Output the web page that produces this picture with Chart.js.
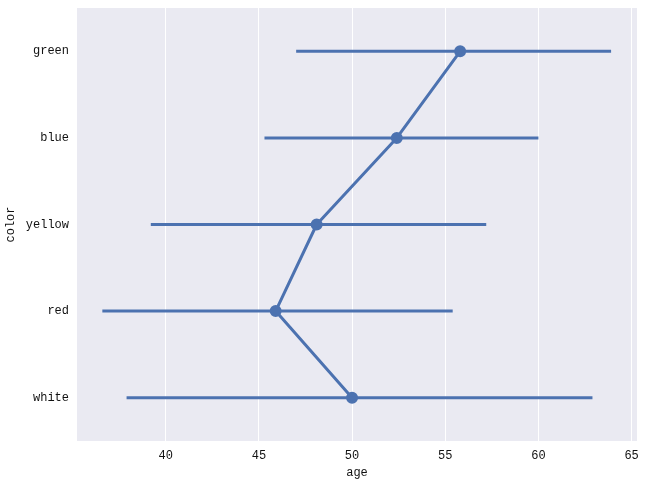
<!DOCTYPE html>
<html>
<head>
<meta charset="utf-8">
<script src="https://cdn.jsdelivr.net/npm/chart.js@4"></script>
<style>
  html, body { margin: 0; padding: 0; background: #fff; }
  #wrap { width: 646px; height: 486px; }
</style>
</head>
<body>
<div id="wrap"><canvas id="chart01" width="646" height="486"></canvas></div>
<script>
// 色ごとの年齢の平均と信頼区間
var categories = ['green', 'blue', 'yellow', 'red', 'white'];
var means = [55.8, 52.4, 48.1, 45.9, 50.0];
var ciLow = [47.0, 45.3, 39.2, 36.6, 37.9];
var ciHigh = [63.9, 60.0, 57.2, 55.4, 62.9];
var xTicks = [40, 45, 50, 55, 60, 65];

var lineColor = '#4c72b0';
var fontFamily = '"Liberation Mono", "DejaVu Sans Mono", monospace';

var datasets = [];
categories.forEach(function(c, i) {
  datasets.push({
    label: c + ' ci',
    data: [{x: ciLow[i], y: c}, {x: ciHigh[i], y: c}],
    borderColor: lineColor,
    borderWidth: 3,
    pointRadius: 0,
    borderCapStyle: 'butt',
  });
});
datasets.push({
  label: 'mean',
  data: categories.map(function(c, i) { return {x: means[i], y: c}; }),
  borderColor: lineColor,
  backgroundColor: lineColor,
  borderWidth: 3,
  pointRadius: 4.5,
  pointHoverRadius: 4.5,
  borderJoinStyle: 'round',
});

var plotBg = {
  id: 'plotBg',
  beforeDraw: function(chart) {
    var a = chart.chartArea, ctx = chart.ctx;
    ctx.save();
    ctx.fillStyle = '#eaeaf2';
    ctx.fillRect(a.left, a.top, a.right - a.left, a.bottom - a.top);
    ctx.restore();
  }
};

var ctx = document.getElementById('chart01');
var chart = new Chart(ctx, {
  type: 'line',
  data: { labels: categories, datasets: datasets },
  plugins: [plotBg],
  options: {
    responsive: false,
    animation: false,
    layout: { padding: { top: 8, right: 9, left: 0, bottom: 0 } },
    plugins: {
      legend: { display: false },
      tooltip: { enabled: false },
    },
    scales: {
      x: {
        type: 'linear',
        min: 35.24,
        max: 65.29,
        afterBuildTicks: function(scale) {
          scale.ticks = xTicks.map(function(v) { return {value: v}; });
        },
        afterFit: function(scale) {
          scale.height = 45;
          scale.paddingLeft = 0;
          scale.paddingRight = 0;
        },
        grid: { color: '#ffffff', lineWidth: 1, drawTicks: false },
        border: { display: false },
        ticks: { color: '#111', font: { family: fontFamily, size: 12 }, padding: 8 },
        title: { display: true, text: 'age', color: '#111', font: { family: fontFamily, size: 12 }, padding: { top: 0, bottom: 6 } },
      },
      y: {
        type: 'category',
        labels: categories,
        offset: true,
        afterFit: function(scale) {
          scale.width = 77;
          scale.paddingTop = 0;
          scale.paddingBottom = 0;
        },
        grid: { display: false, drawTicks: false },
        border: { display: false },
        ticks: { color: '#111', font: { family: fontFamily, size: 12 }, padding: 8 },
        title: { display: true, text: 'color', color: '#111', font: { family: fontFamily, size: 12 }, padding: { top: 4, bottom: 0 } },
      }
    }
  }
});
</script>
</body>
</html>
